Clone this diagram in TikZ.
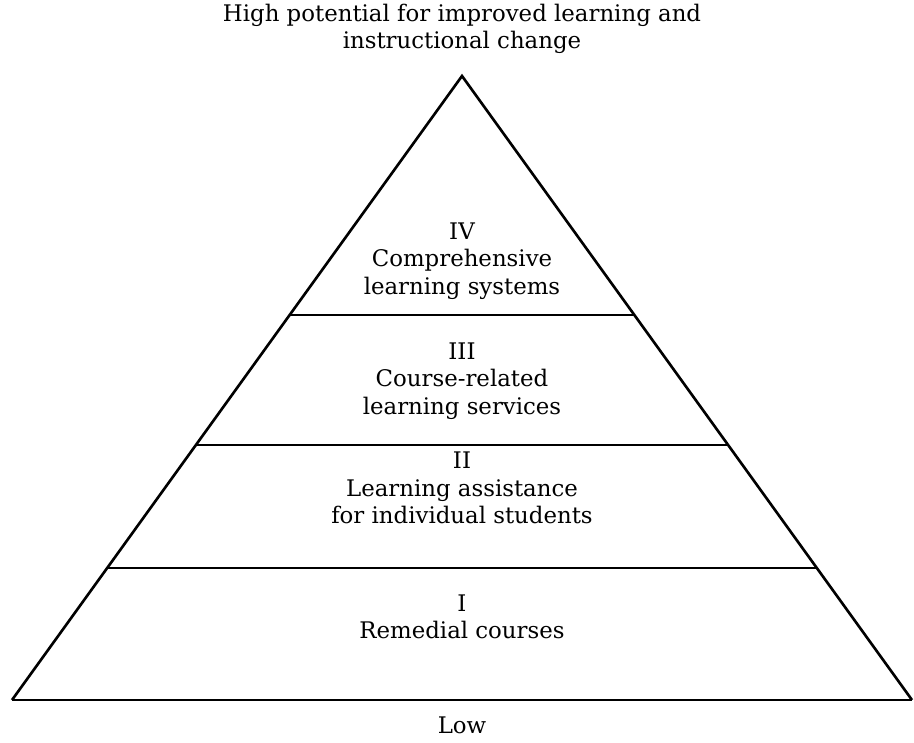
\documentclass[tikz,border=0pt]{standalone}
\usepackage{tikz}
\usepackage{fontspec}
\setmainfont{DejaVu Serif}
\begin{document}
\begin{tikzpicture}[x=1cm,y=1cm,
    level/.style={align=center,inner sep=0pt,font=\fontsize{13}{15.5}\selectfont},
    divider/.style={line width=0.8pt}]
        \useasboundingbox (0,0) rectangle (18.28,14.84);
        % pyramid
        \coordinate (apex) at (9.24,13.32);
        \coordinate (left) at (0.24,0.84);
        \coordinate (right) at (18.24,0.84);
        \draw[line width=1.5pt, line join=miter] (left) -- (apex) -- (right);
        \draw[divider] (left) -- (right);
        \draw[divider] (5.80,8.54) -- (12.68,8.54);
        \draw[divider] (3.92,5.94) -- (14.56,5.94);
        \draw[divider] (2.15,3.48) -- (16.33,3.48);
        % labels
        \node[level] (top) at (9.24,14.27) {High potential for improved learning and\\instructional change};
        \node[level] (four) at (9.24,9.62) {IV\\Comprehensive\\learning systems};
        \node[level] (three) at (9.24,7.22) {III\\Course-related\\learning services};
        \node[level] (two) at (9.24,5.08) {II\\Learning assistance\\for individual students};
        \node[level] (one) at (9.24,2.50) {I\\Remedial courses};
        \node[level] (low) at (9.24,0.34) {Low};
    \end{tikzpicture}
\end{document}
